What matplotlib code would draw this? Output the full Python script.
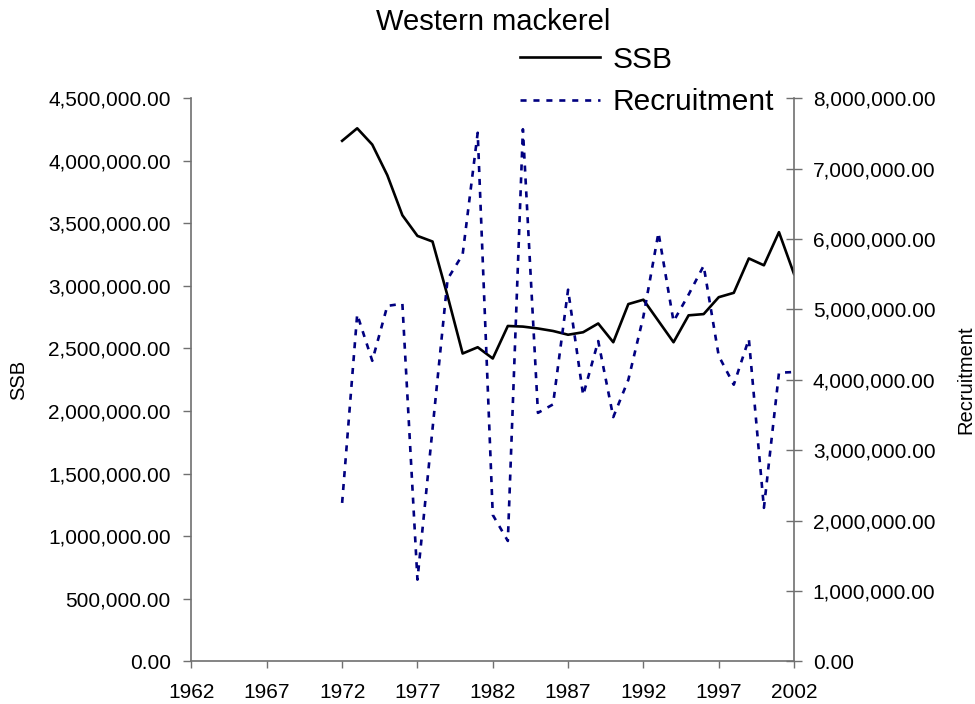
import matplotlib
matplotlib.use("Agg")
import matplotlib.pyplot as plt
from matplotlib.ticker import FuncFormatter

# values
years = list(range(1972, 2003))
ssb = [4160000, 4260000, 4130000, 3885000, 3565000, 3400000, 3355000, 2920000,
       2460000, 2510000, 2420000, 2680000, 2675000, 2660000, 2640000, 2610000,
       2630000, 2700000, 2550000, 2855000, 2890000, 2720000, 2550000, 2765000,
       2775000, 2910000, 2945000, 3220000, 3165000, 3430000, 3095000]
recruitment = [2250000, 4930000, 4270000, 5050000, 5080000, 1160000, 3300000, 5430000,
               5780000, 7510000, 2080000, 1710000, 7560000, 3530000, 3650000, 5280000,
               3780000, 4550000, 3470000, 4000000, 4900000, 6090000, 4830000, 5210000,
               5620000, 4340000, 3930000, 4580000, 2180000, 4100000, 4110000]
x_ticks = list(range(1962, 2003, 5))

plt.rcParams['font.family'] = ['Liberation Sans', 'DejaVu Sans']

fig = plt.figure(figsize=(9.75, 7.04), dpi=100)
ax = fig.add_axes([0.1964, 0.0607, 0.618, 0.7997])
ax2 = ax.twinx()

fmt = FuncFormatter(lambda v, p: "{:,.2f}".format(v))

l1, = ax.plot(years, ssb, color="black", lw=1.9, label="SSB")
l2, = ax2.plot(years, recruitment, color="#000080", lw=1.9, dashes=(2.3, 2.6),
               label="Recruitment")

ax.set_xlim(1962, 2002)
ax.set_ylim(0, 4500000)
ax2.set_ylim(0, 8000000)
ax.set_xticks(x_ticks)
ax.set_yticks(range(0, 4500001, 500000))
ax2.set_yticks(range(0, 8000001, 1000000))
ax.yaxis.set_major_formatter(fmt)
ax2.yaxis.set_major_formatter(fmt)

for a in (ax, ax2):
    a.spines["top"].set_visible(False)
    for s in ("left", "right", "bottom"):
        a.spines[s].set_color("#707070")
        a.spines[s].set_linewidth(1.2)
ax.spines["right"].set_visible(False)
ax2.spines["left"].set_visible(False)
ax2.spines["bottom"].set_visible(False)

ax.tick_params(axis="x", direction="out", length=5, width=1, color="#707070",
               labelsize=15, pad=11)
ax.tick_params(axis="y", direction="out", length=6, width=1, color="#707070",
               labelsize=15, pad=9)
ax2.tick_params(axis="y", direction="inout", length=11, width=1, color="#707070",
                labelsize=15, pad=8)

ax.set_ylabel("SSB", fontsize=14.5, labelpad=14)
ax2.set_ylabel("Recruitment", fontsize=14.5, labelpad=15)
ax.set_title("Western mackerel", fontsize=21, pad=49)

fig.legend(handles=[l1, l2], loc="upper left", bbox_to_anchor=(0.533, 0.935),
           frameon=False, fontsize=21.5, handlelength=2.7, handletextpad=0.4,
           labelspacing=0.48, borderpad=0, borderaxespad=0)

fig.savefig("out.png", dpi=100)
